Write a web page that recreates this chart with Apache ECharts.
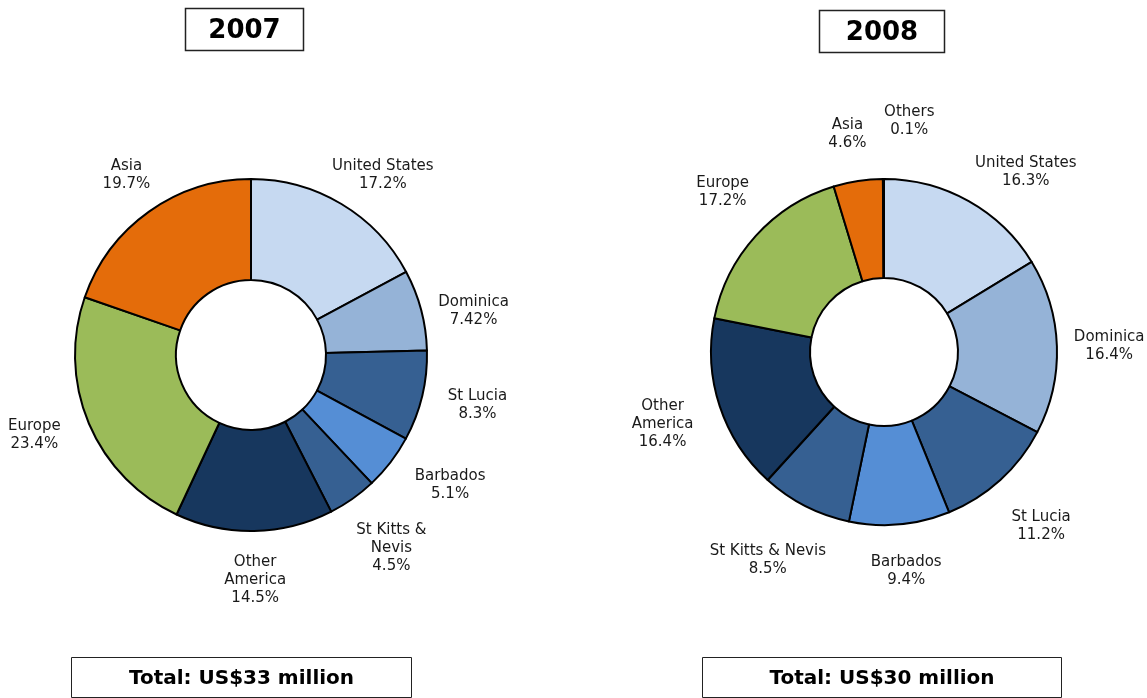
<!DOCTYPE html>
<html>
<head>
<meta charset="utf-8">
<script src="https://cdn.jsdelivr.net/npm/echarts@6/dist/echarts.min.js"></script>
<style>
  html, body { margin: 0; padding: 0; background: #fff; }
  #chart { width: 1147px; height: 698px; }
</style>
</head>
<body>
<div id="chart"></div>
<script>
// 2007
var names2007 = ['United States', 'Dominica', 'St Lucia', 'Barbados', 'St Kitts &\nNevis', 'Other\nAmerica', 'Europe', 'Asia']
var values2007 = [17.2, 7.42, 8.3, 5.1, 4.5, 14.5, 23.4, 19.7]
var colors2007 = ['#c6d9f1', '#95b3d7', '#366092', '#558ed5', '#366092', '#17375e', '#9bbb59', '#e46c0a']
// 2008
var names2008 = ['United States', 'Dominica', 'St Lucia', 'Barbados', 'St Kitts & Nevis', 'Other\nAmerica', 'Europe', 'Asia', 'Others']
var values2008 = [16.3, 16.4, 11.2, 9.4, 8.5, 16.4, 17.2, 4.6, 0.1]
var colors2008 = ['#c6d9f1', '#95b3d7', '#366092', '#558ed5', '#366092', '#17375e', '#9bbb59', '#e46c0a', '#e46c0a']

var years = ['2007', '2008']
var totals = ['Total: US$33 million', 'Total: US$30 million']

var pies = [
  { center: [251, 355], radius: [75, 176], labelR: 198 },
  { center: [884, 352], radius: [74, 173], labelR: 198 }
]
// small hand nudges where the labels crowd
var nudges = [
  { 0: [4, 5], 1: [-3, 11], 2: [5, 0], 3: [14, -1], 4: [6, 9], 6: [-10, -4], 7: [4, -4] },
  { 0: [20, 8], 1: [-8, 1], 2: [4, 14], 3: [1, 4], 4: [0, 16], 5: [-4, 2], 6: [5, -15], 7: [-4, -4], 8: [26, -15] }
]

function toData(names, values, colors) {
  return names.map(function (n, i) {
    return { name: n, value: values[i], itemStyle: { color: colors[i] } }
  })
}

var allValues = [values2007, values2008]

// label box sits just outside the ring, pushed out along the slice's middle angle
function labelPos(k, idx, w, h) {
  var values = allValues[k], p = pies[k]
  var sum = values.reduce(function (a, b) { return a + b }, 0)
  var before = 0
  for (var i = 0; i < idx; i++) before += values[i]
  var a = (before + values[idx] / 2) / sum * 2 * Math.PI
  var s = Math.sin(a), c = Math.cos(a)
  var x = p.center[0] + p.labelR * s + s * w / 2
  var y = p.center[1] - p.labelR * c - c * h / 2
  var n = nudges[k][idx]
  if (n) { x += n[0]; y += n[1] }
  return { x: x, y: y }
}

function makeSeries(k, data) {
  var p = pies[k]
  return {
    type: 'pie',
    center: p.center,
    radius: p.radius,
    startAngle: 90,
    clockwise: true,
    silent: true,
    avoidLabelOverlap: false,
    itemStyle: { borderColor: '#000', borderWidth: 2 },
    label: {
      show: true,
      position: 'outside',
      formatter: '{b}\n{c}%',
      fontFamily: '"DejaVu Sans"',
      fontSize: 15,
      lineHeight: 18,
      color: '#1a1a1a'
    },
    labelLine: { show: false },
    labelLayout: function (params) {
      var r = params.labelRect
      var pos = labelPos(k, params.dataIndex, r.width, r.height)
      return { x: pos.x, y: pos.y, align: 'center', verticalAlign: 'middle' }
    },
    data: data
  }
}

function box(x, y, w, h, text, font, lw, dy) {
  return {
    type: 'group',
    children: [
      { type: 'rect', shape: { x: x, y: y, width: w, height: h },
        style: { fill: '#fff', stroke: '#222', lineWidth: lw } },
      { type: 'text', x: x + w / 2, y: y + h / 2 + dy,
        style: { text: text, font: font, fill: '#000', align: 'center', verticalAlign: 'middle' } }
    ]
  }
}

var chart = echarts.init(document.getElementById('chart'))
chart.setOption({
  animation: false,
  backgroundColor: '#fff',
  graphic: [
    box(185.5, 8.5, 118, 42, years[0], 'bold 26px "DejaVu Sans"', 1.5, 2),
    box(819.5, 10.5, 125, 42, years[1], 'bold 26px "DejaVu Sans"', 1.5, 2),
    box(71.5, 657.5, 340, 40, totals[0], 'bold 20px "DejaVu Sans"', 1, 1),
    box(702.5, 657.5, 359, 40, totals[1], 'bold 20px "DejaVu Sans"', 1, 1)
  ],
  series: [
    makeSeries(0, toData(names2007, values2007, colors2007)),
    makeSeries(1, toData(names2008, values2008, colors2008))
  ]
})
</script>
</body>
</html>
